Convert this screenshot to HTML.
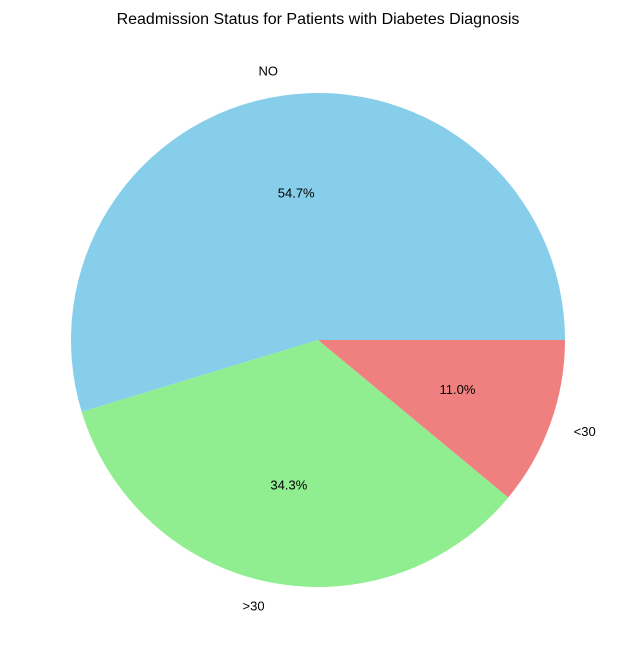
<!DOCTYPE html>
<html>
<head>
<meta charset="utf-8">
<style>
  html, body { margin: 0; padding: 0; background: #ffffff; }
  svg { display: block; }
  text { font-family: "Liberation Sans", "DejaVu Sans", sans-serif; fill: #000; }
</style>
</head>
<body>
<svg id="chart" width="636" height="658" viewBox="0 0 636 658" xmlns="http://www.w3.org/2000/svg">
  <rect width="636" height="658" fill="#ffffff"></rect>
  <text x="318" y="24" text-anchor="middle" font-size="16">Readmission Status for Patients with Diabetes Diagnosis</text>
  <g id="slices"></g>
  <g id="labels"></g>
</svg>
<script>
const categories = ["NO", ">30", "<30"];
const values = [54.7, 34.3, 11.0];
const colors = ["#87CEEB", "#90EE90", "#F08080"];

const cx = 318, cy = 340, r = 247;
const NS = "http://www.w3.org/2000/svg";
const slicesG = document.getElementById("slices");
const labelsG = document.getElementById("labels");
const total = values.reduce((a, b) => a + b, 0);

function pt(angleDeg, rad) {
  const a = angleDeg * Math.PI / 180;
  return [cx + rad * Math.cos(a), cy - rad * Math.sin(a)];
}

let start = 0;
values.forEach((v, i) => {
  const sweep = v / total * 360;
  const end = start + sweep;
  const [x1, y1] = pt(start, r);
  const [x2, y2] = pt(end, r);
  const large = sweep > 180 ? 1 : 0;
  const path = document.createElementNS(NS, "path");
  path.setAttribute("d", `M${cx},${cy} L${x1},${y1} A${r},${r} 0 ${large} 0 ${x2},${y2} Z`);
  path.setAttribute("fill", colors[i]);
  
  
  slicesG.appendChild(path);

  const mid = start + sweep / 2;
  const [lx, ly] = pt(mid, r * 1.1);
  const lab = document.createElementNS(NS, "text");
  lab.setAttribute("x", lx);
  lab.setAttribute("y", ly + 4);
  lab.setAttribute("font-size", "13");
  lab.setAttribute("text-anchor", Math.cos(mid * Math.PI / 180) < 0 ? "end" : "start");
  lab.textContent = categories[i];
  
  
  labelsG.appendChild(lab);

  const [px, py] = pt(mid, r * 0.6);
  const pct = document.createElementNS(NS, "text");
  pct.setAttribute("x", px);
  pct.setAttribute("y", py + 4);
  pct.setAttribute("font-size", "13");
  pct.setAttribute("text-anchor", "middle");
  pct.textContent = (v / total * 100).toFixed(1) + "%";
  
  
  labelsG.appendChild(pct);

  start = end;
});
</script>
</body>
</html>
